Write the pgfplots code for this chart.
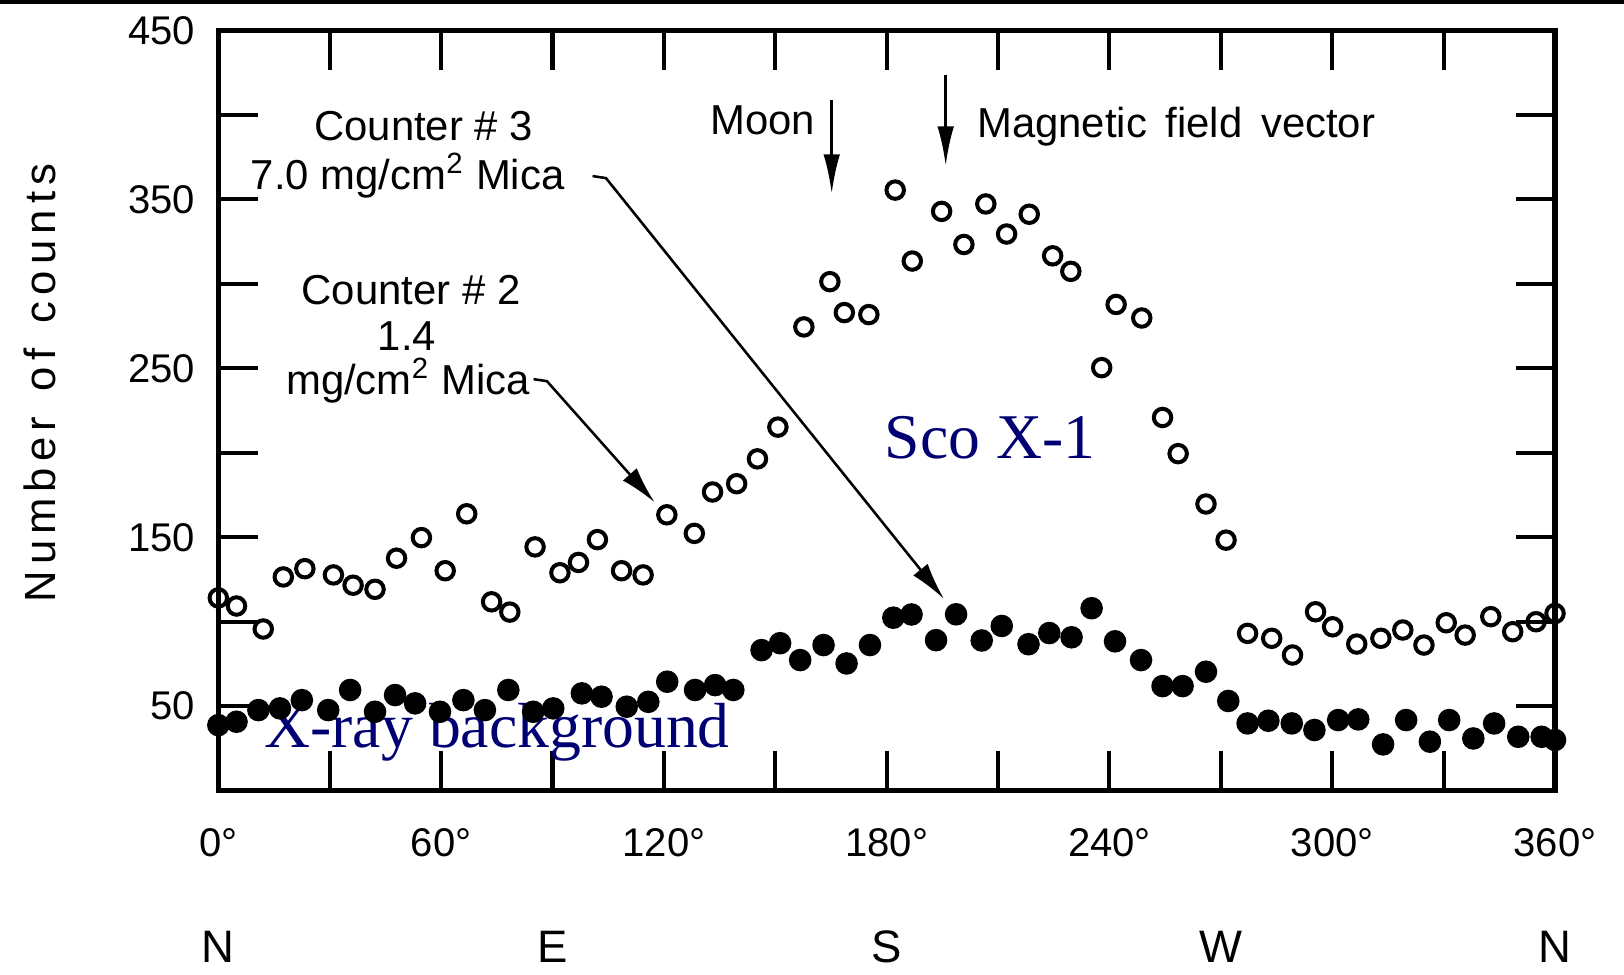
\documentclass[border=0pt]{standalone}
\usepackage{fontspec}
\setmainfont{Liberation Sans}
\newfontfamily\serifblue{Liberation Serif}
\usepackage{pgfplots}
\pgfplotsset{compat=1.18}
\usetikzlibrary{arrows.meta}
\definecolor{navyblue}{RGB}{0,0,115}

\pgfplotstableread{
x y
0 114.1
4.9 109.3
12.1 95.7
17.5 126.5
23.3 131.4
31.0 127.7
36.3 121.6
42.2 119.2
48.0 137.6
54.7 149.8
61.1 130.2
66.9 163.9
73.6 111.8
78.5 105.7
85.3 144.3
92.0 129.0
97.0 135.1
102.1 148.6
108.6 130.2
114.4 127.7
120.8 163.3
128.2 152.3
133.1 176.8
139.6 181.7
145.2 196.4
150.7 215.2
157.7 274.5
164.7 301.3
168.6 283.0
175.2 281.8
182.3 355.5
186.9 313.5
194.8 342.9
200.8 323.3
206.7 347.3
212.3 329.5
218.4 341.2
224.7 316.6
229.6 307.4
237.9 250.4
241.8 287.8
248.7 279.8
254.3 220.9
258.5 199.5
266.0 169.7
271.4 148.3
277.2 93.1
283.7 90.2
289.3 80.3
295.5 105.9
300.1 97.0
306.6 86.8
313.1 90.2
319.0 95.1
324.7 86.2
330.7 99.4
335.8 92.1
342.7 103.0
348.6 94.1
354.9 100.0
360.0 104.9
}\countertwo

\pgfplotstableread{
x y
0 38.8
4.9 40.8
10.8 47.7
16.6 48.7
22.5 53.6
29.6 47.7
35.5 59.6
42.2 46.7
47.6 56.6
53.0 51.7
59.7 46.7
66.0 53.6
71.8 47.7
78.1 59.6
84.8 46.7
90.2 48.7
97.9 57.6
103.2 55.6
110.0 49.7
115.8 52.6
120.9 64.5
128.4 59.6
133.8 62.5
138.7 59.6
146.3 83.2
151.3 87.3
156.7 77.3
163.0 86.2
169.2 75.3
175.5 86.2
181.8 102.4
186.7 104.3
193.3 89.1
198.7 104.4
205.6 88.9
211.0 97.5
218.2 86.7
223.8 93.3
229.8 90.8
235.2 108.0
241.5 88.4
248.5 77.3
254.3 61.9
259.7 61.9
266.0 70.4
272.0 53.1
277.2 39.8
282.8 41.4
289.1 39.8
295.2 35.9
301.6 41.8
307.0 42.2
313.7 27.4
319.9 41.8
326.3 29.0
331.5 41.8
338.0 30.9
343.6 39.8
350.1 31.9
356.4 31.9
360.0 30.0
}\counterthree

\begin{document}
\begin{tikzpicture}
\begin{axis}[name=ax,
  width=129.06mm, height=73.4mm, scale only axis,
  xmin=0, xmax=360, ymin=0, ymax=450, clip=false,
  axis line style={line width=1.4pt},
  xtick={0,30,...,360},
  xticklabels={0°,,60°,,120°,,180°,,240°,,300°,,360°},
  ytick={50,100,...,450},
  yticklabels={50,,150,,250,,350,,450},
  tick align=inside, major tick length=3.8mm,
  tick style={line width=1.1pt, black},
  tick label style={font=\fontsize{11}{13}\selectfont},
  xticklabel style={yshift=-2.4mm},
  yticklabel style={xshift=-1mm},
]
\addplot[only marks, mark=o, mark size=2.4pt, mark options={line width=1.1pt, black}] table[x=x,y=y] {\countertwo};
\addplot[only marks, mark=*, mark size=2.9pt, mark options={black, fill=black}] table[x=x,y=y] {\counterthree};

% annotations
\node[anchor=base, font=\fontsize{11.5}{13}\selectfont] at (axis cs:55.3,384.6) {Counter \# 3};
\node[anchor=base, font=\fontsize{11.5}{13}\selectfont] at (axis cs:51.0,355.8) {7.0 mg/cm\textsuperscript{2} Mica};
\node[anchor=base, font=\fontsize{11.5}{13}\selectfont] at (axis cs:51.9,287.8) {Counter \# 2};
\node[anchor=base, font=\fontsize{11.5}{13}\selectfont] at (axis cs:50.8,260.8) {1.4};
\node[anchor=base, font=\fontsize{11.5}{13}\selectfont] at (axis cs:51.1,234.4) {mg/cm\textsuperscript{2} Mica};
\node[anchor=base, font=\fontsize{11.5}{13}\selectfont] at (axis cs:146.6,388.3) {Moon};
\node[anchor=base west, inner sep=0pt, font=\fontsize{11.5}{13}\selectfont] at (axis cs:204.2,386.5) {Magnetic\, field\, vector};

\draw[line width=0.7pt, -{Latex[length=3.6mm,width=1.8mm]}] (axis cs:100.8,363.8) -- (axis cs:104.4,362.6) -- (axis cs:195.4,113.6);
\draw[line width=0.7pt, -{Latex[length=3.6mm,width=1.8mm]}] (axis cs:84.9,243.6) -- (axis cs:88.5,242.4) -- (axis cs:117.5,170.7);
\draw[line width=0.8pt, -{Latex[length=3.8mm,width=1.6mm]}] (axis cs:165.2,408.6) -- (axis cs:165.2,353.4);
\draw[line width=0.8pt, -{Latex[length=3.8mm,width=1.6mm]}] (axis cs:195.9,423.9) -- (axis cs:195.9,369.9);

\node[rotate=90, font=\fontsize{12}{14}\selectfont\addfontfeature{LetterSpace=14}] at (axis cs:-48.1,241.2) {Number\, of\, counts};

\node[font=\fontsize{12.5}{14}\selectfont] at (axis cs:0,-92.4) {N};
\node[font=\fontsize{12.5}{14}\selectfont] at (axis cs:90,-92.4) {E};
\node[font=\fontsize{12.5}{14}\selectfont] at (axis cs:180,-92.4) {S};
\node[font=\fontsize{12.5}{14}\selectfont] at (axis cs:270,-92.4) {W};
\node[font=\fontsize{12.5}{14}\selectfont] at (axis cs:360,-92.4) {N};

\node[anchor=base, text=navyblue, font=\serifblue\fontsize{17.5}{20}\selectfont] at (axis cs:207.9,196.4) {Sco X-1};
\node[anchor=base, text=navyblue, font=\serifblue\fontsize{17.5}{20}\selectfont] at (axis cs:75.1,25.4) {X-ray background};
\end{axis}
\pgfresetboundingbox
\path[use as bounding box] (ax.south west) ++(-21.08mm,-17.76mm) rectangle ++(156.8mm,94.1mm);
\draw[line width=0.9pt] (ax.south west) ++(-21.08mm,76.14mm) -- ++(156.8mm,0);
\end{tikzpicture}
\end{document}
